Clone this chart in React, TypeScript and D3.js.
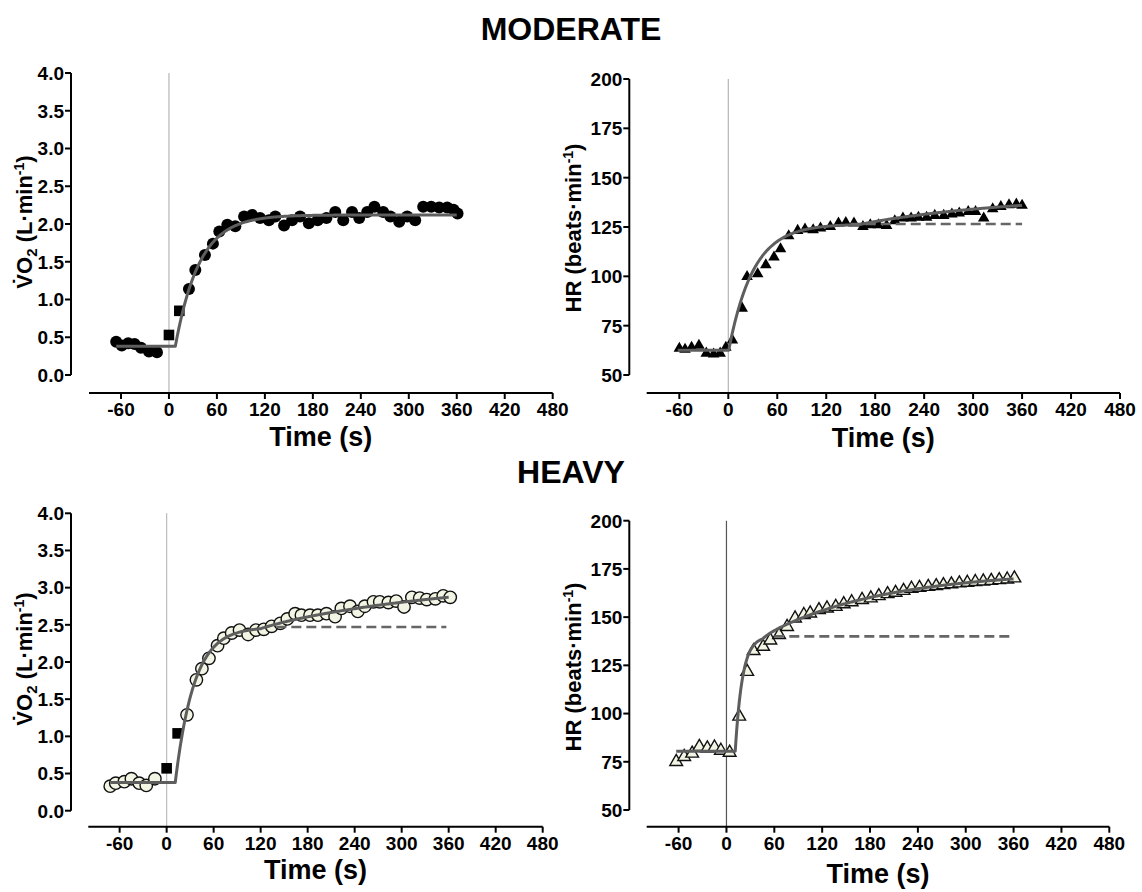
import React from "react";
import * as d3 from "d3";

// ---------------- DATA ----------------
const xTicks = [-60, 0, 60, 120, 180, 240, 300, 360, 420, 480];
const vo2Ticks = [0, 0.5, 1, 1.5, 2, 2.5, 3, 3.5, 4];
const hrTicks = [50, 75, 100, 125, 150, 175, 200];

// Moderate VO2
const modVo2BaseTime = [-66, -59, -51, -43, -35, -25, -15];
const modVo2BaseVal = [0.44, 0.39, 0.42, 0.41, 0.36, 0.31, 0.3];
const modVo2SqTime = [0, 13];
const modVo2SqVal = [0.53, 0.85];
const modVo2Time = [25, 33, 45, 55, 63, 73, 83, 94, 104, 114, 125, 133, 144, 154, 164, 175, 186, 197, 208, 218, 229, 238, 248, 257, 268, 277, 288, 298, 308, 318, 328, 338, 348, 356, 361];
const modVo2Val = [1.14, 1.39, 1.59, 1.74, 1.9, 1.99, 1.97, 2.1, 2.12, 2.08, 2.05, 2.1, 1.98, 2.05, 2.1, 2.01, 2.05, 2.08, 2.16, 2.05, 2.16, 2.08, 2.16, 2.23, 2.16, 2.1, 2.03, 2.1, 2.05, 2.23, 2.23, 2.22, 2.22, 2.19, 2.14];
const modVo2Fit = { base: 0.38, a1: 1.74, td1: 8, tau1: 30, a2: 0, td2: 400, tau2: 1, start: -66, end: 360 };

// Moderate HR
const modHrTime = [-60, -53, -45, -36, -27, -18, -10, -3, 5, 17, 23, 36, 46, 56, 64, 74, 85, 94, 104, 113, 125, 135, 144, 154, 165, 174, 184, 194, 204, 214, 224, 233, 243, 253, 264, 274, 283, 294, 303, 313, 324, 334, 344, 353, 360];
const modHrVal = [63.5, 63, 64, 65, 61, 60.5, 61, 64, 67.7, 83.8, 99.8, 101.2, 105.8, 109.7, 113.9, 120.5, 123.2, 123.9, 123.5, 124.4, 125.2, 126.9, 127.2, 126.9, 125.2, 126.1, 126.1, 125.7, 128.1, 129.5, 129.5, 129.8, 129.8, 130.8, 130.8, 131.5, 132, 132.8, 132.8, 129.5, 134.2, 135.3, 136.2, 136.5, 135.9];
const modHrFit = { base: 62.5, a1: 64, td1: 0.5, tau1: 30, a2: 15, td2: 160, tau2: 200, start: -62, end: 360 };
const modHrDashed = { value: 126.5, from: 150, to: 360 };

// Heavy VO2
const hvyVo2BaseTime = [-72, -65, -54, -45, -35, -26, -15];
const hvyVo2BaseVal = [0.33, 0.37, 0.39, 0.43, 0.37, 0.34, 0.43];
const hvyVo2SqTime = [0, 14];
const hvyVo2SqVal = [0.57, 1.04];
const hvyVo2Time = [26, 38, 45, 54, 65, 73, 83, 93, 104, 114, 124, 134, 145, 154, 164, 172, 183, 193, 204, 215, 223, 234, 244, 253, 264, 272, 283, 293, 303, 313, 323, 332, 343, 353, 362];
const hvyVo2Val = [1.29, 1.76, 1.91, 2.05, 2.22, 2.32, 2.39, 2.43, 2.37, 2.43, 2.44, 2.48, 2.52, 2.58, 2.65, 2.63, 2.63, 2.63, 2.65, 2.61, 2.72, 2.75, 2.68, 2.75, 2.81, 2.81, 2.8, 2.82, 2.74, 2.87, 2.86, 2.84, 2.85, 2.89, 2.87];
const hvyVo2Fit = { base: 0.38, a1: 2.09, td1: 11, tau1: 24, a2: 0.65, td2: 120, tau2: 250, start: -72, end: 360 };
const hvyVo2Dashed = { value: 2.47, from: 140, to: 357 };

// Heavy HR
const hvyHrTime = [-63, -53, -43, -34, -24, -15, -7, 4, 16, 26, 34, 46, 55, 66, 76, 86, 97, 105, 116, 126, 137, 147, 157, 170, 181, 191, 202, 212, 222, 232, 242, 253, 263, 272, 282, 292, 302, 312, 322, 332, 342, 352, 361];
const hvyHrVal = [75, 77.6, 79.3, 82.8, 82, 82.5, 80.8, 79.8, 98.5, 121.7, 132.5, 134.7, 138, 140.8, 145, 149.4, 151.2, 152, 153.7, 154.6, 155.4, 156.8, 157.8, 159, 159.8, 161, 162, 162.7, 163.7, 164.8, 165.3, 165.8, 166.2, 166.7, 167.1, 167.6, 167.9, 168.3, 168.6, 168.9, 169.3, 169.6, 170.2];
const hvyHrFit = { base: 80.5, a1: 59.5, td1: 11, tau1: 9, a2: 34, td2: 45, tau2: 150, start: -63, end: 360 };
const hvyHrDashed = { value: 140, from: 60, to: 358 };

// ---------------- LAYOUT ----------------
const FONT = "'Liberation Sans', Arial, Helvetica, sans-serif";
const CREAM = "#f2f5e3";
const FIT_COLOR = "#5e5e5e";

type Fit = { base: number; a1: number; td1: number; tau1: number; a2: number; td2: number; tau2: number; start: number; end: number };

function fitValue(f: Fit, t: number) {
  let v = f.base;
  if (t > f.td1) v += f.a1 * (1 - Math.exp(-(t - f.td1) / f.tau1));
  if (t > f.td2) v += f.a2 * (1 - Math.exp(-(t - f.td2) / f.tau2));
  return v;
}

function Panel(props: any) {
  const { L, yDomain, yTicks, yFmt, kind, times, vals, sqTimes, sqVals, marker, fit, dashed } = props;
  const x = d3.scaleLinear().domain([-100, 480]).range([L.xL, L.xR]);
  const y = d3.scaleLinear().domain(yDomain).range([L.yBot, L.yTop]);
  const samples = Array.from(new Set([...d3.range(fit.start, fit.end, 1), fit.td1, fit.end])).sort((a, b) => a - b);
  const line = d3.line<number>().x((t) => x(t)).y((t) => y(fitValue(fit, t)));
  const triBlack = d3.symbol().type(d3.symbolTriangle).size(58)()!;
  const triWhite = d3.symbol().type(d3.symbolTriangle).size(70)()!;

  return (
    <g>
      {/* zero line */}
      <line x1={x(0)} x2={x(0)} y1={L.yTop} y2={L.xAxisY} stroke={L.zeroColor} strokeWidth={1.2} />
      {/* points */}
      {times.map((t: number, i: number) => {
        const cx = x(t), cy = y(vals[i]);
        if (marker === "blackCircle") return <circle key={i} cx={cx} cy={cy} r={6} fill="#000" />;
        if (marker === "creamCircle") return <circle key={i} cx={cx} cy={cy} r={6.2} fill={CREAM} stroke="#111" strokeWidth={1.4} />;
        if (marker === "blackTri") return <path key={i} d={triBlack} transform={`translate(${cx},${cy})`} fill="#000" />;
        return <path key={i} d={triWhite} transform={`translate(${cx},${cy})`} fill={CREAM} stroke="#111" strokeWidth={1.4} />;
      })}
      {sqTimes && sqTimes.map((t: number, i: number) => (
        <rect key={"s" + i} x={x(t) - 5.3} y={y(sqVals[i]) - 5.3} width={10.6} height={10.6} fill="#000" />
      ))}
      {/* fit */}
      <path d={line(samples)!} fill="none" stroke={FIT_COLOR} strokeWidth={3} strokeLinejoin="round" />
      {dashed && (
        <line x1={x(dashed.from)} x2={x(dashed.to)} y1={y(dashed.value)} y2={y(dashed.value)} stroke="#666" strokeWidth={2.6} strokeDasharray="10 5" />
      )}
      {/* y axis */}
      <line x1={L.yAxisX} x2={L.yAxisX} y1={L.yTop} y2={L.yBot} stroke="#000" strokeWidth={2} />
      {yTicks.map((v: number) => (
        <g key={"y" + v}>
          <line x1={L.yAxisX - 6} x2={L.yAxisX} y1={y(v)} y2={y(v)} stroke="#000" strokeWidth={2} />
          <text x={L.yAxisX - 7} y={y(v)} dy="0.36em" textAnchor="end" fontSize={19} fontWeight="bold" fontFamily={FONT}>{yFmt(v)}</text>
        </g>
      ))}
      {/* x axis */}
      <line x1={L.xL} x2={L.xR} y1={L.xAxisY} y2={L.xAxisY} stroke="#000" strokeWidth={2} />
      {xTicks.map((v) => (
        <g key={"x" + v}>
          <line x1={x(v)} x2={x(v)} y1={L.xAxisY} y2={L.xAxisY + 6} stroke="#000" strokeWidth={2} />
          <text x={x(v)} y={L.xAxisY + 23} textAnchor="middle" fontSize={19} fontWeight="bold" fontFamily={FONT}>{v}</text>
        </g>
      ))}
      <text x={(L.xL + L.xR) / 2} y={L.timeY} textAnchor="middle" fontSize={27} fontWeight="bold" fontFamily={FONT}>Time (s)</text>
      {/* y label */}
      <text transform={`translate(${L.labelX},${L.labelY}) rotate(-90)`} textAnchor="middle" fontSize={22} fontWeight="bold" fontFamily={FONT}>
        {kind === "vo2" ? (
          <>
            <tspan>{"V\u0307O"}</tspan>
            <tspan dy={5} fontSize={15}>2</tspan>
            <tspan dy={-5}>{" (L\u00B7min"}</tspan>
            <tspan dy={-8} fontSize={14}>-1</tspan>
            <tspan dy={8}>)</tspan>
          </>
        ) : (
          <>
            <tspan>{"HR (beats\u00B7min"}</tspan>
            <tspan dy={-8} fontSize={14}>-1</tspan>
            <tspan dy={8}>)</tspan>
          </>
        )}
      </text>
    </g>
  );
}

const LAYOUT = {
  tl: { yAxisX: 71, yTop: 73, yBot: 375, xAxisY: 393, xL: 89, xR: 552.7, zeroColor: "#b5b5b5", labelX: 32, labelY: 222, timeY: 446 },
  tr: { yAxisX: 629.3, yTop: 79, yBot: 375, xAxisY: 393, xL: 646.7, xR: 1120, zeroColor: "#b5b5b5", labelX: 581, labelY: 228, timeY: 447 },
  bl: { yAxisX: 71, yTop: 513.3, yBot: 810.7, xAxisY: 826.7, xL: 88.3, xR: 542.7, zeroColor: "#bcbcbc", labelX: 32, labelY: 659, timeY: 879 },
  br: { yAxisX: 629.3, yTop: 520.7, yBot: 810, xAxisY: 826.7, xL: 646.7, xR: 1109.3, zeroColor: "#555", labelX: 581, labelY: 667, timeY: 883 },
};

export default function App() {
  const fmt1 = d3.format(".1f");
  const fmt0 = (v: number) => String(v);
  return (
    <svg width={1142} height={892} style={{ position: "absolute", left: 0, top: 0, background: "#fff" }}>
      <rect width={1142} height={892} fill="#fff" />
      <text x={571} y={40} textAnchor="middle" fontSize={32} fontWeight="bold" fontFamily={FONT}>MODERATE</text>
      <text x={571} y={483} textAnchor="middle" fontSize={32} fontWeight="bold" fontFamily={FONT}>HEAVY</text>

      <Panel L={LAYOUT.tl} yDomain={[0, 4]} yTicks={vo2Ticks} yFmt={fmt1} kind="vo2"
        times={[...modVo2BaseTime, ...modVo2Time]} vals={[...modVo2BaseVal, ...modVo2Val]}
        sqTimes={modVo2SqTime} sqVals={modVo2SqVal} marker="blackCircle" fit={modVo2Fit} dashed={null} />

      <Panel L={LAYOUT.tr} yDomain={[50, 200]} yTicks={hrTicks} yFmt={fmt0} kind="hr"
        times={modHrTime} vals={modHrVal} marker="blackTri" fit={modHrFit} dashed={modHrDashed} />

      <Panel L={LAYOUT.bl} yDomain={[0, 4]} yTicks={vo2Ticks} yFmt={fmt1} kind="vo2"
        times={[...hvyVo2BaseTime, ...hvyVo2Time]} vals={[...hvyVo2BaseVal, ...hvyVo2Val]}
        sqTimes={hvyVo2SqTime} sqVals={hvyVo2SqVal} marker="creamCircle" fit={hvyVo2Fit} dashed={hvyVo2Dashed} />

      <Panel L={LAYOUT.br} yDomain={[50, 200]} yTicks={hrTicks} yFmt={fmt0} kind="hr"
        times={hvyHrTime} vals={hvyHrVal} marker="creamTri" fit={hvyHrFit} dashed={hvyHrDashed} />
    </svg>
  );
}
